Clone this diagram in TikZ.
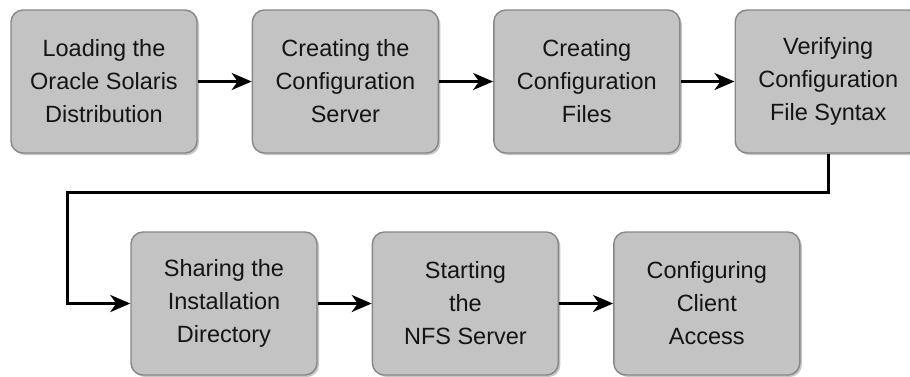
\documentclass[tikz,border=0pt]{standalone}
\usepackage{fontspec}
\setmainfont{Liberation Sans}
\usetikzlibrary{arrows.meta,positioning,shadows}
\definecolor{boxfill}{RGB}{195,195,195}
\definecolor{boxline}{RGB}{135,135,135}
\definecolor{ink}{RGB}{20,20,20}
\def\bw{186pt}
\def\bhgt{143pt}

\begin{document}
\begin{tikzpicture}[x=1pt, y=1pt,
  stepbox/.style={draw=boxline, line width=1.4pt, fill=boxfill, rounded corners=12pt,
    minimum width=\bw, minimum height=\bhgt, align=center, text=ink, inner sep=0pt,
    font=\fontsize{23.5}{33}\selectfont,
    drop shadow={shadow xshift=2pt, shadow yshift=-2pt, opacity=0.45, fill=gray}},
  flow/.style={draw=black, line width=3pt, -{Stealth[length=20pt, width=17pt, inset=6pt]}},
  node distance=54pt]
\useasboundingbox (0,0) rectangle (910,-376);
% top row
\node[stepbox] (load) at (104,-81.5) {Loading the\\Oracle Solaris\\Distribution};
\node[stepbox, right=of load] (server) {Creating the\\Configuration\\Server};
\node[stepbox, right=of server] (files) {Creating\\Configuration\\Files};
\node[stepbox, right=of files] (verify) {Verifying\\Configuration\\File Syntax};
% bottom row
\node[stepbox] (share) at (224,-303.5) {Sharing the\\Installation\\Directory};
\node[stepbox, right=of share] (nfs) {Starting\\the\\NFS Server};
\node[stepbox, right=of nfs] (client) {Configuring\\Client\\Access};
% connectors
\coordinate (bendL) at (67,-192.5);
\draw[flow] (load) -- (server);
\draw[flow] (server) -- (files);
\draw[flow] (files) -- (verify);
\draw[flow] (verify.south) |- (bendL) |- (share.west);
\draw[flow] (share) -- (nfs);
\draw[flow] (nfs) -- (client);
\end{tikzpicture}
\end{document}
